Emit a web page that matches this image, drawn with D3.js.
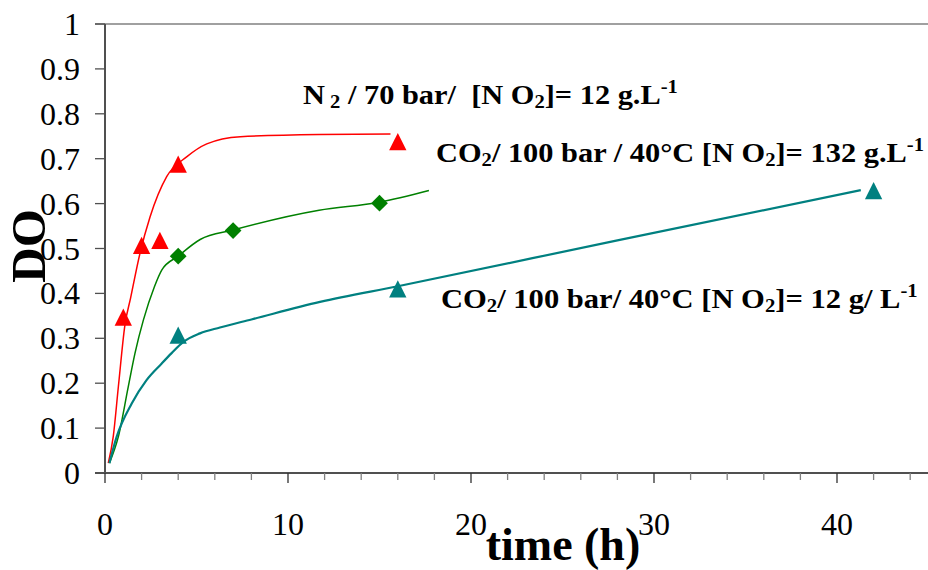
<!DOCTYPE html>
<html>
<head>
<meta charset="utf-8">
<script src="https://cdn.jsdelivr.net/npm/d3@7"></script>
<style>
  html, body { margin: 0; padding: 0; background: white; }
</style>
</head>
<body>
<div id="chart"></div>
<script>

const width = 928
const height = 570
const serif = "Liberation Serif"

// measured points
const n2Time = [1, 2, 3, 4, 16]
const n2DO = [0.347, 0.507, 0.518, 0.688, 0.738]
const co2HighTime = [4, 7, 15]
const co2HighDO = [0.483, 0.54, 0.601]
const co2LowTime = [4, 16, 42]
const co2LowDO = [0.307, 0.41, 0.629]

// trend curves
const n2CurveTime = [0.18, 0.45, 0.73, 1.09, 1.4, 1.91, 2.46, 3.37, 4.46, 5.56, 7.4, 11.7, 15.6]
const n2CurveDO = [0.022, 0.081, 0.192, 0.33, 0.39, 0.489, 0.57, 0.66, 0.704, 0.733, 0.749, 0.754, 0.755]
const co2HighCurveTime = [0.24, 0.73, 1.27, 1.64, 2.1, 2.7, 3.1, 4.0, 5.2, 7.0, 11.7, 15, 17.7]
const co2HighCurveDO = [0.022, 0.081, 0.192, 0.267, 0.341, 0.415, 0.452, 0.483, 0.52, 0.541, 0.585, 0.603, 0.629]
const co2LowCurveTime = [0.24, 0.64, 1.46, 2.27, 3.1, 3.64, 4.28, 5.19, 6.28, 8, 11.75, 16, 28, 41.3]
const co2LowCurveDO = [0.022, 0.081, 0.155, 0.207, 0.244, 0.267, 0.292, 0.311, 0.324, 0.342, 0.381, 0.416, 0.518, 0.63]

const yTicks = [0, 0.1, 0.2, 0.3, 0.4, 0.5, 0.6, 0.7, 0.8, 0.9, 1]
const xMajor = [0, 10, 20, 30, 40]
const xMinor = d3.range(0, 46, 2)

const svg = d3.select("#chart")
  .append("svg")
  .attr("width", width)
  .attr("height", height)

const x = d3.scaleLinear().domain([0, 45]).range([105, 928.5])
const y = d3.scaleLinear().domain([0, 1]).range([473, 24])

// frame
svg.append("line")
  .attr("x1", 95).attr("x2", width)
  .attr("y1", y(1)).attr("y2", y(1))
  .attr("stroke", "#808080").attr("stroke-width", 1.5)

// y axis
const yAxis = svg.append("g")
yAxis.append("line")
  .attr("x1", x(0)).attr("x2", x(0))
  .attr("y1", y(0)).attr("y2", y(1))
  .attr("stroke", "#505050").attr("stroke-width", 2)
yAxis.selectAll("line.tick")
  .data(yTicks)
  .enter().append("line")
  .attr("class", "tick")
  .attr("x1", 95).attr("x2", x(0))
  .attr("y1", d => y(d)).attr("y2", d => y(d))
  .attr("stroke", "#505050").attr("stroke-width", 1.3)
yAxis.selectAll("text")
  .data(yTicks)
  .enter().append("text")
  .attr("x", 80)
  .attr("y", d => y(d) + 11)
  .attr("text-anchor", "end")
  .attr("font-size", 32)
  .attr("fill", "black")
  .text(d => d === 0 || d === 1 ? d : d.toFixed(1))

// x axis
const xAxis = svg.append("g")
xAxis.append("line")
  .attr("x1", 95).attr("x2", width)
  .attr("y1", y(0)).attr("y2", y(0))
  .attr("stroke", "#505050").attr("stroke-width", 2)
xAxis.selectAll("line.minor")
  .data(xMinor)
  .enter().append("line")
  .attr("class", "minor")
  .attr("x1", d => x(d)).attr("x2", d => x(d))
  .attr("y1", y(0)).attr("y2", d => d % 10 === 0 ? y(0) + 10 : y(0) + 7)
  .attr("stroke", d => d % 10 === 0 ? "#303030" : "#808080")
  .attr("stroke-width", 1.3)
xAxis.selectAll("text")
  .data(xMajor)
  .enter().append("text")
  .attr("x", d => x(d))
  .attr("y", 535)
  .attr("text-anchor", "middle")
  .attr("font-size", 32)
  .attr("fill", "black")
  .text(d => d)

// axis titles
svg.append("text")
  .attr("transform", "translate(45,246) rotate(-90)")
  .attr("text-anchor", "middle")
  .attr("font-size", 49)
  .attr("font-weight", "bold")
  .text("DO")

svg.append("text")
  .attr("x", 563)
  .attr("y", 560)
  .attr("text-anchor", "middle")
  .attr("font-size", 46)
  .attr("font-weight", "bold")
  .text("time (h)")

// curves
const line = d3.line()
  .x(d => x(d[0]))
  .y(d => y(d[1]))
  .curve(d3.curveMonotoneX)

const curves = [
  { t: n2CurveTime, v: n2CurveDO, color: "#ff0000", w: 1.5 },
  { t: co2HighCurveTime, v: co2HighCurveDO, color: "#008000", w: 1.5 },
  { t: co2LowCurveTime, v: co2LowCurveDO, color: "#008080", w: 2.2 }
]
curves.forEach(c => {
  svg.append("path")
    .datum(d3.zip(c.t, c.v))
    .attr("fill", "none")
    .attr("stroke", c.color)
    .attr("stroke-width", c.w)
    .attr("d", line)
})

// markers (triangle centred on its box, like the spreadsheet marker)
const boxTriangle = {
  draw(context, size) {
    const s = Math.sqrt(size)
    context.moveTo(0, -s / 2)
    context.lineTo(s / 2, s / 2)
    context.lineTo(-s / 2, s / 2)
    context.closePath()
  }
}

const markerSets = [
  { t: n2Time, v: n2DO, color: "#ff0000", type: boxTriangle, size: 300, rot: 0 },
  { t: co2HighTime, v: co2HighDO, color: "#008000", type: d3.symbolSquare, size: 140, rot: 45 },
  { t: co2LowTime, v: co2LowDO, color: "#008080", type: boxTriangle, size: 300, rot: 0 }
]
markerSets.forEach(m => {
  svg.append("g").selectAll("path")
    .data(d3.zip(m.t, m.v))
    .enter().append("path")
    .attr("transform", d => `translate(${x(d[0])},${y(d[1])}) rotate(${m.rot})`)
    .attr("d", d3.symbol().type(m.type).size(m.size))
    .attr("fill", m.color)
})

// series labels, stretched to the width they take in the original
function label(px, py, right, parts) {
  const t = svg.append("text")
    .attr("x", 0)
    .attr("y", 0)
    .attr("font-size", 28)
    .attr("font-weight", "bold")
    .attr("font-family", serif)
    .style("white-space", "pre")
  parts.forEach(p => {
    const ts = t.append("tspan").text(p[0])
    if (p[1] === "sub") ts.attr("font-size", 19).attr("baseline-shift", "-4")
    if (p[1] === "sup") ts.attr("font-size", 19).attr("baseline-shift", "11")
  })
  const w = t.node().getBBox().width
  t.attr("transform", `translate(${px},${py}) scale(${(right - px) / w},1)`)
  return t
}

label(303, 104, 678, [["N"], [" 2", "sub"], [" / 70 bar/  [N O"], ["2", "sub"], ["]= 12 g.L"], ["-1", "sup"]])
label(436, 162, 924, [["CO"], ["2", "sub"], ["/ 100 bar / 40°C [N O"], ["2", "sub"], ["]= 132 g.L"], ["-1", "sup"]])
label(441, 308, 918, [["CO"], ["2", "sub"], ["/ 100 bar/ 40°C [N O"], ["2", "sub"], ["]= 12 g/ L"], ["-1", "sup"]])

svg.selectAll("text").attr("font-family", serif)

</script>
</body>
</html>
